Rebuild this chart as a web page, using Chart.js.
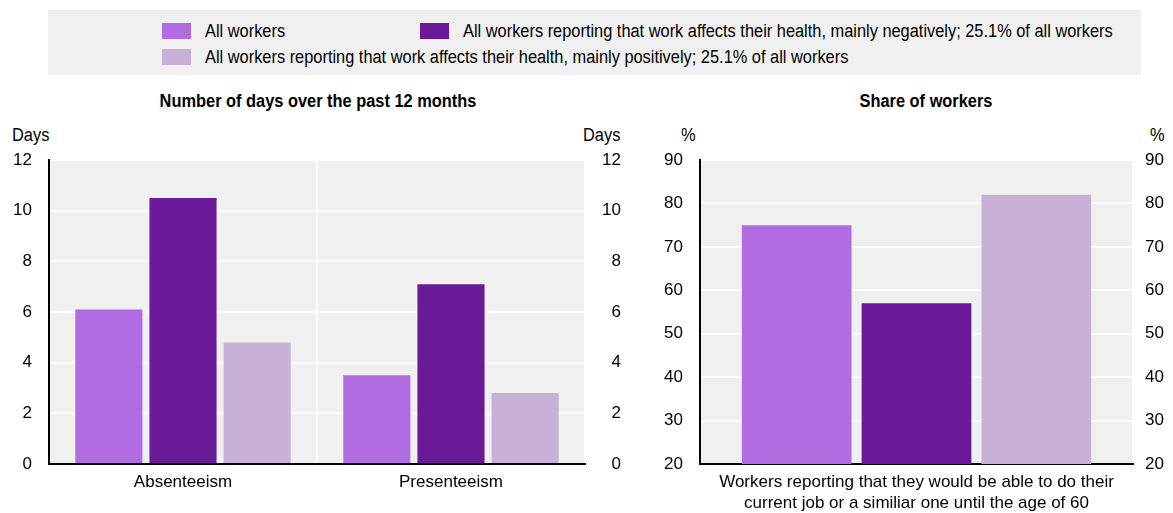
<!doctype html>
<html><head><meta charset="utf-8">
<title>Work and health</title>
<script src="https://cdn.jsdelivr.net/npm/chart.js@4"></script>
<style>
  body { margin: 0; width: 1173px; height: 513px; background: #fff; position: relative; overflow: hidden;
         font-family: 'Liberation Sans', Arial, sans-serif; color: #000; }
  .legend { position: absolute; left: 48px; top: 10px; width: 1093px; height: 65px; background: #f0f0f0; }
  .sw { position: absolute; width: 29px; height: 16px; }
  .lt { position: absolute; font-size: 18px; line-height: 18px; white-space: nowrap;
        transform: scaleX(0.91); transform-origin: 0 0; }
  .title { position: absolute; top: 91px; font-size: 18px; font-weight: bold; text-align: center; white-space: nowrap;
           transform: scaleX(0.91); transform-origin: 50% 0; }
  .unit { position: absolute; top: 126px; font-size: 18px; line-height: 18px; transform: scaleX(0.91); transform-origin: 0 0; }
  canvas { position: absolute; }
</style>
</head><body>
<div class="legend" id="legend"></div>
<div class="title" style="left:118px;width:400px">Number of days over the past 12 months</div>
<div class="title" style="left:726px;width:400px">Share of workers</div>
<div class="unit" style="left:12px">Days</div>
<div class="unit" style="left:583px">Days</div>
<div class="unit" style="left:681px">%</div>
<div class="unit" style="left:1150px">%</div>
<canvas id="days" width="640" height="373" style="left:0;top:140px"></canvas>
<canvas id="share" width="533" height="373" style="left:640px;top:140px"></canvas>
<script>
const seriesNames = [
  'All workers',
  'All workers reporting that work affects their health, mainly negatively; 25.1% of all workers',
  'All workers reporting that work affects their health, mainly positively; 25.1% of all workers'
];
const seriesColors = ['#b06ce0', '#6a1a98', '#c8b0d6'];

const dayCategories = ['Absenteeism', 'Presenteeism'];
const daysAll = [6.1, 3.5];
const daysNegative = [10.5, 7.1];
const daysPositive = [4.8, 2.8];
const dayTicks = [0, 2, 4, 6, 8, 10, 12];

const shareCategories = [['Workers reporting that they would be able to do their', 'current job or a similiar one until the age of 60']];
const shareAll = [75];
const shareNegative = [57];
const sharePositive = [82];
const shareTicks = [20, 30, 40, 50, 60, 70, 80, 90];

// legend boxes (HTML, laid out in two rows)
const legendSpots = [[114, 13], [372, 13], [114, 39]];
const legend = document.getElementById('legend');
seriesNames.forEach((name, i) => {
  const [x, y] = legendSpots[i];
  legend.insertAdjacentHTML('beforeend',
    `<div class="sw" style="left:${x}px;top:${y}px;background:${seriesColors[i]}"></div>` +
    `<div class="lt" style="left:${x + 43}px;top:${y - 1}px">${name}</div>`);
});

const FONT = { family: "'Liberation Sans', Arial, sans-serif", size: 17 };

const plotBg = {
  id: 'plotBg',
  beforeDraw(chart) {
    const { ctx, chartArea: a } = chart;
    ctx.save();
    ctx.fillStyle = '#f0f0f0';
    ctx.fillRect(a.left, a.top, a.right - a.left, a.bottom - a.top);
    // short inward tick at the top of the left axis
    ctx.strokeStyle = '#000';
    ctx.lineWidth = 2;
    ctx.beginPath();
    ctx.moveTo(a.left, a.top);
    ctx.lineTo(a.left + 6, a.top);
    ctx.stroke();
    ctx.restore();
  }
};

// keep the plot box fixed: no extra room reserved for half-height tick labels
function noPad(s) { s.paddingTop = 0; s.paddingBottom = 0; s.paddingLeft = 0; s.paddingRight = 0; }

function build(id, labels, sets, ticks, o) {
  const [min, max] = [ticks[0], ticks[ticks.length - 1]];
  const step = ticks[1] - ticks[0];
  new Chart(document.getElementById(id), {
    type: 'bar',
    data: {
      labels,
      datasets: sets.map((d, i) => ({
        label: seriesNames[i], data: d, backgroundColor: seriesColors[i],
        categoryPercentage: 0.83, barPercentage: o.barPct, borderWidth: 0
      }))
    },
    plugins: [plotBg],
    options: {
      responsive: false, animation: false,
      layout: { padding: { top: 20, left: 0, right: o.padOut, bottom: 0 } },
      plugins: { legend: { display: false }, tooltip: { enabled: false } },
      scales: {
        x: {
          offset: true,
          grid: { color: '#ffffff', lineWidth: 2, drawTicks: false, offset: true },
          border: { color: '#000', width: 2 },
          ticks: { color: '#000', font: { ...FONT, lineHeight: 1.28 }, padding: 7, maxRotation: 0, autoSkip: false },
          afterFit(s) { noPad(s); s.height = 49; }
        },
        y: {
          position: 'left', min, max,
          grid: { color: '#ffffff', lineWidth: 2, drawTicks: false },
          border: { color: '#000', width: 2 },
          ticks: { color: '#000', font: FONT, stepSize: step, padding: o.padL },
          afterFit(s) { noPad(s); s.width = o.wL; }
        },
        y2: {
          position: 'right', min, max,
          grid: { display: false, drawTicks: false },
          border: { display: false },
          ticks: { color: '#000', font: FONT, stepSize: step, crossAlign: 'far' },
          afterFit(s) { noPad(s); s.width = o.wR; }
        }
      }
    }
  });
}

build('days', dayCategories, [daysAll, daysNegative, daysPositive], dayTicks,
  { barPct: 0.905, padL: 17, wL: 49, wR: 36, padOut: 19 });
build('share', shareCategories, [shareAll, shareNegative, sharePositive], shareTicks,
  { barPct: 0.916, padL: 17, wL: 60, wR: 31, padOut: 9 });
</script>
</body></html>
